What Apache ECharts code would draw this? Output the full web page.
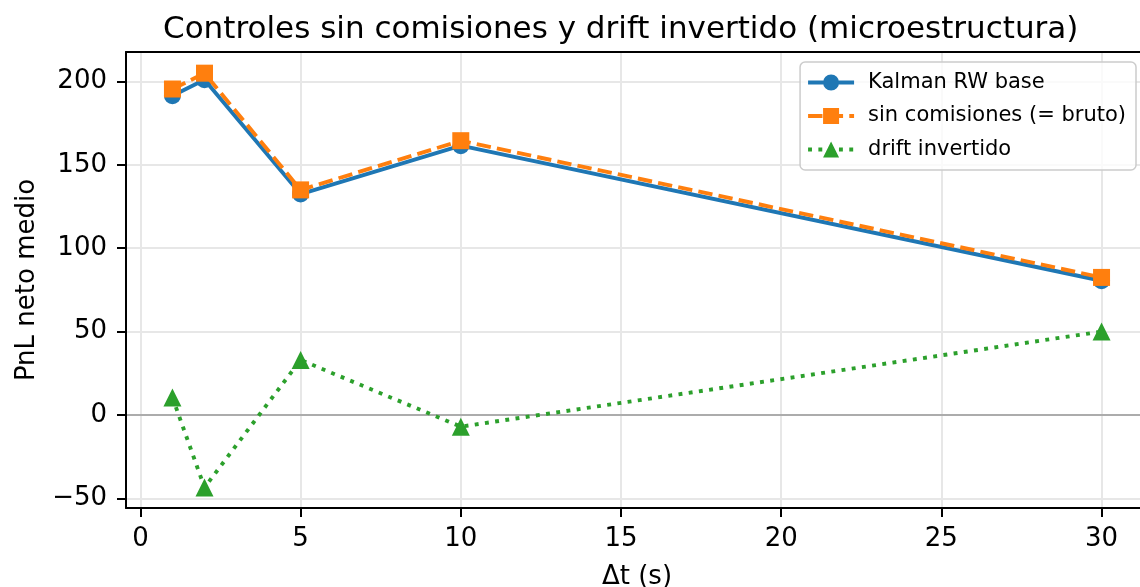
<!DOCTYPE html>
<html>
<head>
<meta charset="utf-8">
<script src="https://cdn.jsdelivr.net/npm/echarts@6/dist/echarts.min.js"></script>
<style>
  html, body { margin: 0; padding: 0; background: #ffffff; }
  #chart { width: 1140px; height: 587px; }
</style>
</head>
<body>
<div id="chart"></div>
<script>
// Sampling interval Δt (s)
const dt = [1, 2, 5, 10, 30];
// Mean net PnL per control
const kalmanBase = [191.5, 201, 132.5, 161.5, 80.5];
const sinComisiones = [195.5, 205, 135, 164.5, 82.5];
const driftInvertido = [10.5, -43.5, 33, -7, 50];

// Axis ticks and their labels
const xTicks = [0, 5, 10, 15, 20, 25, 30];
const xTickLabels = ['0', '5', '10', '15', '20', '25', '30'];
const yTicks = [-50, 0, 50, 100, 150, 200];
const yTickLabels = ['\u221250', '0', '50', '100', '150', '200'];

const seriesNames = ['Kalman RW base', 'sin comisiones (= bruto)', 'drift invertido'];
const colors = ['#1f77b4', '#ff7f0e', '#2ca02c'];

const FONT = 'DejaVu Sans';
const LW = 3.9;

// Legend handles (46 x 16 box): line segments with the series marker in the middle
const legendIcons = [
  // solid line + circle
  'path://M0 6.05H16V9.95H0Z M30 6.05H46V9.95H30Z M15 8A8 8 0 1 1 31 8A8 8 0 1 1 15 8Z',
  // dashed line + square
  'path://M0 6.05H14.4V9.95H0Z M31 6.05H35V9.95H31Z M41.2 6.05H46V9.95H41.2Z M15 0H31V16H15Z',
  // dotted line + triangle
  'path://M0 6.05H3.9V9.95H0Z M10.3 6.05H14.2V9.95H10.3Z M30.9 6.05H34.8V9.95H30.9Z M41.2 6.05H45.1V9.95H41.2Z M46 6.05V6.1H45.9Z M23 0L31 16H15Z'
];

const pairs = (ys) => dt.map((x, i) => [x, ys[i]]);

const chart = echarts.init(document.getElementById('chart'), null, { renderer: 'canvas' });

const gridLineStyle = { color: '#e7e7e7', width: 2, type: 'solid' };
const spine = { color: '#000000', width: 2 };

chart.setOption({
  animation: false,
  backgroundColor: '#ffffff',
  title: {
    text: 'Controles sin comisiones y drift invertido (microestructura)',
    left: 163,
    top: 14,
    padding: 0,
    textStyle: { fontFamily: FONT, fontSize: 31, fontWeight: 'normal', color: '#000000' }
  },
  grid: {
    left: 126, right: -8, top: 52, bottom: 79,
    outerBoundsMode: 'none',
    containLabel: false,
    show: false
  },
  legend: {
    z: 20,
    data: seriesNames.map((n, i) => ({ name: n, icon: legendIcons[i] })),
    orient: 'vertical',
    right: 4,
    top: 62,
    itemWidth: 46,
    itemHeight: 16,
    itemGap: 12.5,
    padding: [10, 10, 10, 8],
    backgroundColor: 'rgba(255,255,255,0.8)',
    borderColor: '#cccccc',
    borderWidth: 1.5,
    borderRadius: 5,
    formatter: (name) => '{g|}' + name,
    textStyle: {
      fontFamily: FONT, fontSize: 21, color: '#000000',
      rich: { g: { width: 9 } }
    }
  },
  xAxis: [
    {
      type: 'value',
      min: -0.45,
      max: 31.45,
      name: '\u0394t (s)',
      nameLocation: 'middle',
      nameGap: 56,
      nameTextStyle: { fontFamily: FONT, fontSize: 26, color: '#000000' },
      axisLine: { show: true, onZero: false, lineStyle: spine },
      axisTick: { show: true, length: 9, lineStyle: spine, customValues: xTicks },
      axisLabel: {
        show: true, margin: 18, fontFamily: FONT, fontSize: 26, color: '#000000',
        customValues: xTicks,
        formatter: (v) => xTickLabels[xTicks.indexOf(v)] ?? ''
      },
      splitLine: { show: false }
    },
    {
      // top spine
      type: 'value',
      position: 'top',
      min: -0.45,
      max: 31.45,
      axisLine: { show: true, onZero: false, lineStyle: spine },
      axisTick: { show: false },
      axisLabel: { show: false },
      splitLine: { show: false }
    }
  ],
  yAxis: {
    type: 'value',
    min: -55.8,
    max: 217.7,
    name: 'PnL neto medio',
    nameLocation: 'middle',
    nameRotate: 90,
    nameGap: 86,
    nameTextStyle: { fontFamily: FONT, fontSize: 26, color: '#000000' },
    axisLine: { show: true, onZero: false, lineStyle: spine },
    axisTick: { show: true, length: 9, lineStyle: spine, customValues: yTicks },
    axisLabel: {
      show: true, margin: 19, fontFamily: FONT, fontSize: 26, color: '#000000',
      customValues: yTicks,
      formatter: (v) => yTickLabels[yTicks.indexOf(v)] ?? ''
    },
    splitLine: { show: false }
  },
  series: [
    {
      // background grid lines at the tick positions, plus the zero reference line
      name: '__grid',
      type: 'line',
      data: [],
      silent: true,
      z: 0,
      markLine: {
        z: 0,
        silent: true,
        symbol: ['none', 'none'],
        label: { show: false },
        animation: false,
        data: [
          ...xTicks.map(v => ({ xAxis: v, lineStyle: gridLineStyle })),
          ...yTicks.map(v => ({ yAxis: v, lineStyle: gridLineStyle })),
          { yAxis: 0, lineStyle: { color: '#999999', width: 1.6, type: 'solid' } }
        ]
      }
    },
    {
      name: seriesNames[0],
      type: 'line',
      data: pairs(kalmanBase),
      color: colors[0],
      symbol: 'circle',
      symbolSize: 17,
      lineStyle: { color: colors[0], width: LW, type: 'solid' },
      itemStyle: { color: colors[0] },
      z: 3
    },
    {
      name: seriesNames[1],
      type: 'line',
      data: pairs(sinComisiones),
      color: colors[1],
      symbol: 'rect',
      symbolSize: 17,
      lineStyle: { color: colors[1], width: LW, type: [14.4, 6.2] },
      itemStyle: { color: colors[1] },
      z: 4
    },
    {
      name: seriesNames[2],
      type: 'line',
      data: pairs(driftInvertido),
      color: colors[2],
      symbol: 'triangle',
      symbolSize: 18,
      lineStyle: { color: colors[2], width: LW, type: [3.9, 6.4] },
      itemStyle: { color: colors[2] },
      z: 5
    }
  ]
});
</script>
</body>
</html>
